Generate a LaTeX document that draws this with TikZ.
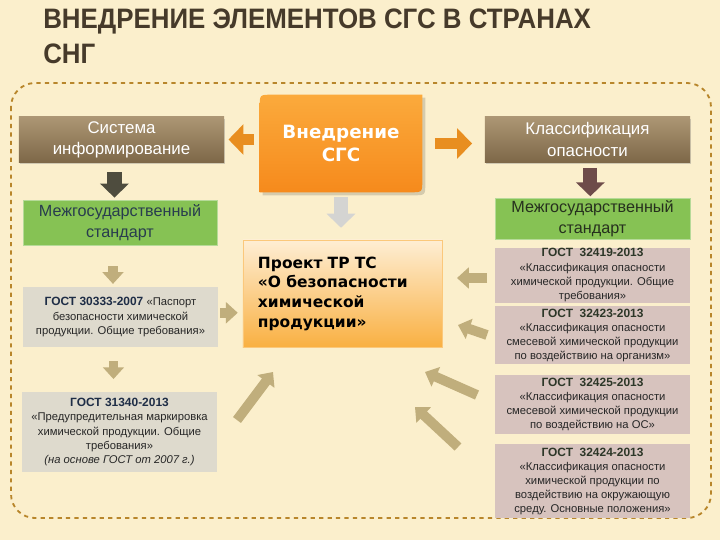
\documentclass[tikz,border=0pt]{standalone}
\usepackage{fontspec}
\setmainfont{Liberation Sans}
\newfontfamily\verdfont{DejaVu Sans}
\newfontfamily\titlefont[FakeStretch=0.92]{Liberation Sans}
\usetikzlibrary{arrows.meta, positioning, calc, backgrounds, shadows}
\definecolor{bgcream}{RGB}{251,239,204}
\definecolor{titlebrown}{RGB}{70,58,42}
\definecolor{framegold}{RGB}{184,134,43}
\definecolor{browntop}{RGB}{172,150,116}
\definecolor{brownbot}{RGB}{126,104,72}
\definecolor{stdgreen}{RGB}{134,194,84}
\definecolor{stdtextl}{RGB}{40,60,78}
\definecolor{stdtextr}{RGB}{38,48,30}
\definecolor{gostgray}{RGB}{222,218,205}
\definecolor{gostrose}{RGB}{215,195,190}
\definecolor{gostnavy}{RGB}{30,45,70}
\definecolor{gostolive}{RGB}{45,55,40}
\definecolor{sgctop}{RGB}{251,170,60}
\definecolor{sgcbot}{RGB}{246,138,28}
\definecolor{projtop}{RGB}{254,238,212}
\definecolor{projbot}{RGB}{249,176,66}
\definecolor{arroworange}{RGB}{232,142,32}
\definecolor{arrowgray}{RGB}{212,212,210}
\definecolor{arrowdark}{RGB}{78,76,62}
\definecolor{arrowplum}{RGB}{110,76,74}
\definecolor{arrowtan}{RGB}{192,174,124}
\tikzset{%
	head/.style={shade, top color=browntop, bottom color=brownbot, text=white, align=center,%
		minimum width=5.125cm, minimum height=1.125cm, inner sep=0mm, font=\fontsize{12}{15}\selectfont,%
		drop shadow={opacity=0.35, shadow xshift=1pt, shadow yshift=-1.5pt}},
	std/.style={fill=stdgreen, draw=stdgreen!60!white, align=center, inner sep=0mm,%
		font=\fontsize{11.5}{14.5}\selectfont},
	gostl/.style={fill=gostgray, align=center, minimum width=4.875cm, inner sep=0mm,%
		font=\fontsize{8}{10.3}\selectfont, text=black!85},
	gostr/.style={fill=gostrose, align=center, minimum width=4.875cm, inner sep=0mm,%
		font=\fontsize{8}{10}\selectfont, text=black!85},
	titletext/.style={anchor=base west, inner sep=0pt, text=titlebrown, font=\titlefont\bfseries\fontsize{20}{24}\selectfont},
	orangearrow/.style={line width=8.5pt, draw=arroworange, -{Triangle[width=0pt 2.5, length=0pt 1.25]}},
	darkarrow/.style={line width=10pt, -{Triangle[width=0pt 2, length=0pt 1]}},
	tanarrow/.style={line width=7pt, draw=arrowtan, -{Triangle[width=0pt 2.1, length=0pt 1.2]}}
}
\newcommand{\gosthdr}[2]{{\color{#1}\bfseries\fontsize{8.5}{10}\selectfont #2}}
% outline of the orange box, moved by (#1,#2)
\newcommand{\sgcoutline}[2]{([shift={(#1,#2)}]sgc.south west) -- ([shift={(#1,12+#2)}]sgc.north west)%
	.. controls ([shift={(#1,#2)}]sgc.north west) .. ([shift={(12+#1,#2)}]sgc.north west)%
	-- ([shift={(#1,#2)}]sgc.north east) -- ([shift={(#1,-12+#2)}]sgc.south east)%
	.. controls ([shift={(#1,#2)}]sgc.south east) .. ([shift={(-12+#1,#2)}]sgc.south east) -- cycle}

\begin{document}
\begin{tikzpicture}[x=0.025cm, y=-0.025cm]
	\useasboundingbox (0,0) rectangle (720,540);

	% title
	\node[titletext] (title1) at (43,28) {ВНЕДРЕНИЕ ЭЛЕМЕНТОВ СГС В СТРАНАХ};
	\node[titletext] (title2) at (43,63) {СНГ};

	% top row
	\node[head] (info) at (121.5,139.5) {Система\\информирование};
	\node[minimum width=4.05cm, minimum height=2.425cm, text=white, align=center,%
		font=\verdfont\bfseries\fontsize{13}{17}\selectfont] (sgc) at (341,143.5) {Внедрение\\СГС};
	\node[head] (klass) at (587.5,139.5) {Классификация\\опасности};

	% standards
	\node[std, text=stdtextl, minimum width=4.85cm, minimum height=1.125cm] (stdL) at (120,222.5) {Межгосударственный\\стандарт};
	\node[std, text=stdtextr, minimum width=4.875cm, minimum height=1.025cm] (stdR) at (592.5,218.5) {Межгосударственный\\стандарт};

	% left column
	\node[gostl, minimum height=1.5cm] (g30333) at (120.5,317) {\gosthdr{gostnavy}{ГОСТ 30333-2007} «Паспорт\\безопасности химической\\продукции. Общие требования»};
	\node[gostl, minimum height=2cm] (g31340) at (119.5,432) {\gosthdr{gostnavy}{ГОСТ 31340-2013}\\«Предупредительная маркировка\\химической продукции. Общие\\требования»\\\textit{(на основе ГОСТ от 2007 г.)}};

	% right column
	\node[gostr, minimum height=1.375cm, below=0.2cm of stdR] (g32419) {\gosthdr{gostolive}{ГОСТ\ \ 32419-2013}\\«Классификация опасности\\химической продукции. Общие\\требования»};
	\node[gostr, minimum height=1.45cm, below=0.075cm of g32419] (g32423) {\gosthdr{gostolive}{ГОСТ\ \ 32423-2013}\\«Классификация опасности\\смесевой химической продукции\\по воздействию на организм»};
	\node[gostr, minimum height=1.475cm, below=0.25cm of g32423] (g32425) {\gosthdr{gostolive}{ГОСТ\ \ 32425-2013}\\«Классификация опасности\\смесевой химической продукции\\по воздействию на ОС»};
	\node[gostr, minimum height=1.85cm, below=0.25cm of g32425] (g32424) {\gosthdr{gostolive}{ГОСТ\ \ 32424-2013}\\«Классификация опасности\\химической продукции по\\воздействию на окружающую\\среду. Основные положения»};

	% project
	\node[shade, top color=projtop, bottom color=projbot, draw=projbot!70!white, text width=4.225cm,%
		inner xsep=0.375cm, minimum height=2.675cm, align=left,%
		font=\verdfont\bfseries\fontsize{11}{14}\selectfont] (proj) at (342.5,293.5) {Проект ТР ТС\\«О безопасности\\химической\\продукции»};

	% free arrow ends
	\coordinate (a1s) at (487,278);  \coordinate (a1e) at (457,278);
	\coordinate (a2s) at (487,335);  \coordinate (a2e) at (458,325);
	\coordinate (a3s) at (477,395);  \coordinate (a3e) at (425,372);
	\coordinate (a4s) at (458,447);  \coordinate (a4e) at (415,407);
	\coordinate (a5s) at (237,420);  \coordinate (a5e) at (273,372);

	\draw[orangearrow, shorten <=4pt, shorten >=3pt] (info.east -| sgc.west) -- (info.east);
	\draw[orangearrow, shorten <=9pt, shorten >=9pt] (sgc.east) -- (sgc.east -| klass.west);
	\draw[darkarrow, draw=arrowgray, shorten <=3.5pt, shorten >=8.5pt] (sgc.south) -- (sgc.south |- proj.north);
	\draw[darkarrow, draw=arrowdark, shorten <=7pt, shorten >=1.5pt] ([xshift=-5pt]info.south) -- ([xshift=-5pt]info.south |- stdL.north);
	\draw[darkarrow, draw=arrowplum, shorten <=4pt, shorten >=1pt] ([xshift=2pt]klass.south) -- ([xshift=2pt]klass.south |- stdR.north);
	\draw[tanarrow, shorten <=15pt, shorten >=2pt] ([xshift=-5pt]stdL.south) -- ([xshift=-5pt]stdL.south |- g30333.north);
	\draw[tanarrow, shorten <=10pt, shorten >=9pt] ([xshift=-5pt]g30333.south) -- ([xshift=-5pt]g30333.south |- g31340.north);
	\draw[tanarrow, shorten <=1.5pt, shorten >=3.5pt] ([yshift=3pt]g30333.east) -- ([yshift=3pt]g30333.east -| proj.west);
	\draw[tanarrow] (a1s) -- (a1e);
	\draw[tanarrow] (a2s) -- (a2e);
	\draw[tanarrow] (a3s) -- (a3e);
	\draw[tanarrow] (a4s) -- (a4e);
	\draw[tanarrow] (a5s) -- (a5e);

	\begin{scope}[on background layer]
		\fill[bgcream] (0,0) rectangle (720,540);
		\draw[framegold, line width=1.3pt, dashed, rounded corners=0.6cm] (11,83) rectangle (711,518);
		\fill[black, opacity=0.15] \sgcoutline{3}{3};
		\shade[top color=sgctop, bottom color=sgcbot] \sgcoutline{0}{0};
	\end{scope}
\end{tikzpicture}
\end{document}
